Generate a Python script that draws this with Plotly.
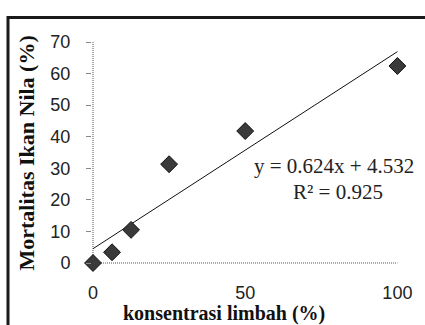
import plotly.graph_objects as go

# Data
konsentrasi = [0, 6.25, 12.5, 25, 50, 100]        # konsentrasi limbah (%)
mortalitas = [0, 3.4, 10.5, 31.3, 41.8, 62.4]     # Mortalitas Ikan Nila (%)
slope = 0.624
intercept = 4.532
r_squared = 0.925
x_ticks = [0, 50, 100]
y_ticks = [0, 10, 20, 30, 40, 50, 60, 70]

trend_x = [0, 100]
trend_y = [slope * v + intercept for v in trend_x]

fig = go.Figure()

# dotted axis lines at x=0 and y=0
fig.add_trace(go.Scatter(x=[0, 0], y=[0, 70], mode="lines",
                         line=dict(color="#555", width=1, dash="1px,1px"),
                         hoverinfo="skip", showlegend=False, cliponaxis=False))
fig.add_trace(go.Scatter(x=[0, 100], y=[0, 0], mode="lines",
                         line=dict(color="#555", width=1, dash="1px,1px"),
                         hoverinfo="skip", showlegend=False, cliponaxis=False))

# linear trendline
fig.add_trace(go.Scatter(x=trend_x, y=trend_y, mode="lines",
                         line=dict(color="#111", width=1),
                         showlegend=False, cliponaxis=False))

# data points
fig.add_trace(go.Scatter(x=konsentrasi, y=mortalitas, mode="markers",
                         marker=dict(symbol="diamond", size=13, color="#3a3a3a",
                                     line=dict(color="#111", width=1)),
                         showlegend=False, cliponaxis=False))

L, R, T, B = 92, 412, 30, 280
W, H = 425, 325

fig.update_layout(
    width=W, height=H,
    margin=dict(l=L, r=W - R, t=T, b=H - B, autoexpand=False),
    paper_bgcolor="white", plot_bgcolor="white",
    font=dict(family="Liberation Sans", color="#222"),
    xaxis=dict(range=[-0.33, 104.8], tickvals=x_ticks, showgrid=False,
               zeroline=False, showline=False, ticks="", automargin=False,
               tickfont=dict(family="Liberation Sans", size=18, color="#222")),
    yaxis=dict(range=[-5.38, 73.8], tickvals=y_ticks, showgrid=False,
               zeroline=False, showline=False, ticks="outside", ticklen=5,
               tickcolor="#888", tickwidth=1, ticklabelstandoff=12, automargin=False,
               tickfont=dict(family="Liberation Sans", size=18, color="#222")),
    annotations=[
        dict(text="<b>konsentrasi limbah (%)</b>", xref="paper", yref="paper",
             x=(224 - L) / (R - L), y=(B - 313.5) / (B - T), xanchor="center",
             yanchor="middle", showarrow=False, borderpad=0,
             font=dict(family="Liberation Serif", size=20, color="#111")),
        dict(text="<b>Mortalitas Ikan Nila (%)</b>", xref="paper", yref="paper",
             x=(26 - L) / (R - L), y=(B - 153.5) / (B - T), textangle=-90,
             xanchor="center", yanchor="middle", showarrow=False,
             font=dict(family="Liberation Serif", size=22, color="#111")),
        dict(text=f"y = {slope}x + {intercept}", x=79.3, y=30.7, xref="x", yref="y",
             showarrow=False, xanchor="center", yanchor="middle",
             font=dict(family="Liberation Serif", size=21, color="#222")),
        dict(text=f"R² = {r_squared}", x=80.6, y=22.5, xref="x", yref="y",
             showarrow=False, xanchor="center", yanchor="middle",
             font=dict(family="Liberation Serif", size=21, color="#222")),
    ],
    shapes=[
        dict(type="line", xref="paper", yref="paper",
             x0=(8 - L) / (R - L), x1=(W + 5 - L) / (R - L),
             y0=(B - 17.5) / (B - T), y1=(B - 17.5) / (B - T),
             line=dict(color="#1a1a1a", width=3)),
        dict(type="line", xref="paper", yref="paper",
             x0=(8 - L) / (R - L), x1=(8 - L) / (R - L),
             y0=(B - 16) / (B - T), y1=(B - H - 5) / (B - T),
             line=dict(color="#1a1a1a", width=3)),
    ],
)

fig.write_html("out.html", config={"displayModeBar": False},
               post_script="document.body.style.margin='0';document.body.style.overflow='hidden';")
